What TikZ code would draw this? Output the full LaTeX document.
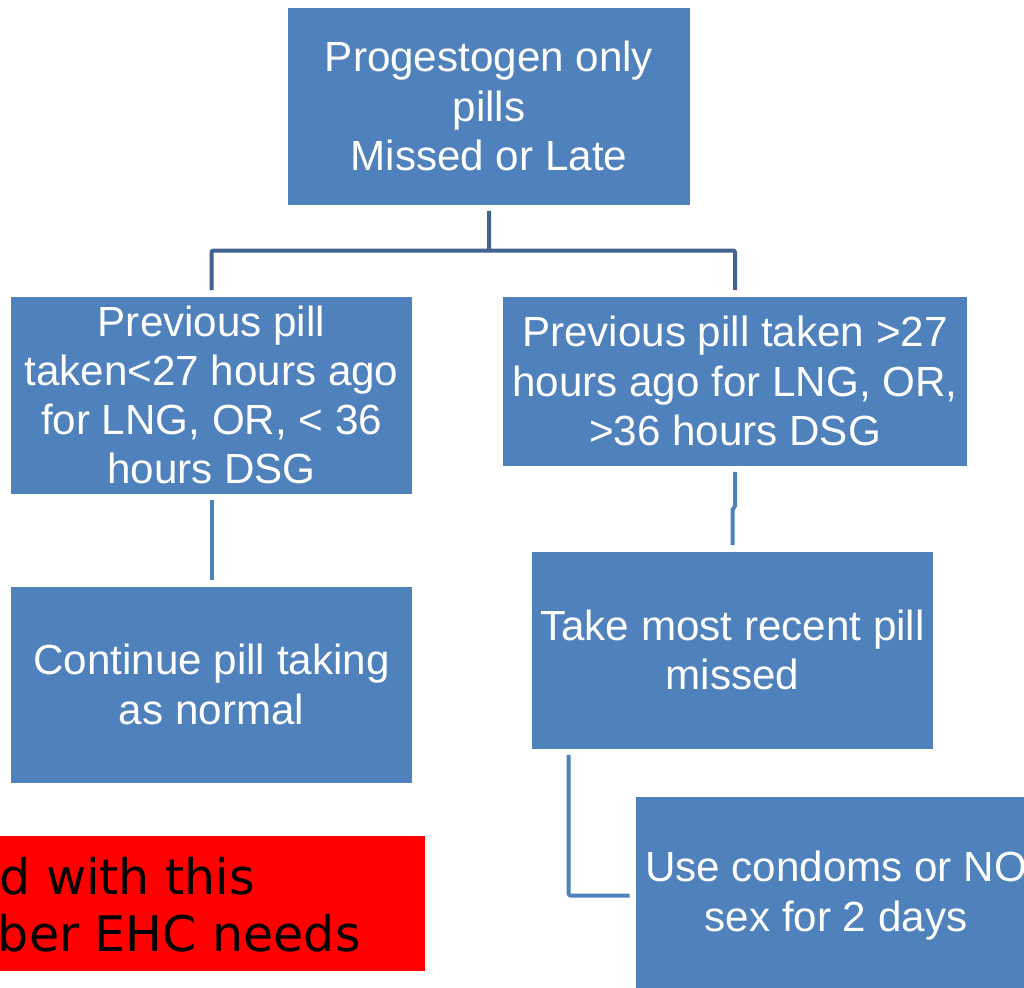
\documentclass[tikz,border=0pt]{standalone}
\usepackage{fontspec}
\setmainfont{Liberation Sans}
\newfontfamily\notefont{DejaVu Sans}
\usetikzlibrary{calc}
\definecolor{boxblue}{HTML}{4F81BD}
\definecolor{treeblue}{HTML}{41648F}
\definecolor{alertred}{HTML}{FF0000}
\tikzset{
  px/.style={x=0.02cm,y=-0.02cm},
  flowbox/.style 2 args={rectangle, fill=boxblue, draw=none, inner sep=0pt,
    minimum width=#1*0.02cm, minimum height=#2*0.02cm,
    align=center, text=white, font=\fontsize{24}{28}\selectfont},
  treeline/.style={draw=treeblue, line width=0.08cm, rounded corners=0.04cm,
    shorten <=0.12cm, shorten >=0.12cm},
  linkline/.style={draw=boxblue, line width=0.08cm, rounded corners=0.04cm,
    shorten <=0.12cm, shorten >=0.12cm},
  notetext/.style={inner sep=0pt, text=black, font=\notefont\fontsize{27.9}{32}\selectfont}
}
\begin{document}
\begin{tikzpicture}[px]
\useasboundingbox (0,0) rectangle (1024,987);
\clip (0,0) rectangle (1024,987);

% boxes of the flow chart
\node[flowbox={402}{197}] (top) at (489,106) {Progestogen only\\pills\\Missed or Late};
\node[flowbox={401}{197}] (lm) at (211.5,395) {Previous pill\\taken<27 hours ago\\for LNG, OR, < 36\\hours DSG};
\node[flowbox={464}{169}] (rm) at (735,381) {Previous pill taken >27\\hours ago for LNG, OR,\\>36 hours DSG};
\node[flowbox={401}{196}] (lb) at (211.5,684.5) {Continue pill taking\\as normal};
\node[flowbox={401}{197}] (rb1) at (732.5,650) {Take most recent pill\\missed};
\node[flowbox={400}{198}] (rb2) at (836,895.5) {Use condoms or NO\\sex for 2 days};

% red note
\fill[alertred] (-60,836) rectangle (425,971);
\node[notetext, anchor=base west] (note1) at (-1,894) {d with this};
\node[notetext, anchor=base east] (note2) at (361,951) {mber EHC needs};

% branching from the top box
\coordinate (fork) at ($(top.south)!0.5!(top.south |- lm.north)$);
\draw[treeline, shorten >=0pt] (top.south) -- (fork);
\draw[treeline] (lm.north) -- (lm.north |- fork) -- (rm.north |- fork) -- (rm.north);

% left branch
\draw[linkline] (lm.south) -- (lb.north);

% right branch
\coordinate (jog) at ($(rm.south)!0.47!(rm.south |- rb1.north)$);
\draw[linkline, rounded corners=0pt] (rm.south) -- (rm.south |- jog) -- ($(rb1.north |- jog)+(0,4)$) -- (rb1.north);

% elbow to the last box
\draw[linkline] ([xshift=37*0.02cm]rb1.south west) |- (rb2.west);
\end{tikzpicture}
\end{document}
